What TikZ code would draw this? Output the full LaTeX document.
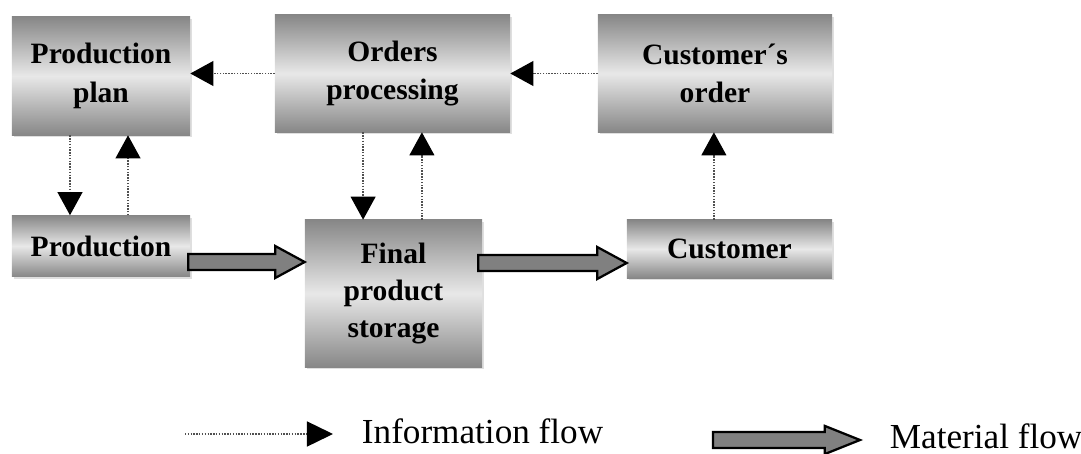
\documentclass[tikz,border=0pt]{standalone}
\usepackage{fontspec}
\setmainfont{Liberation Serif}
\usetikzlibrary{arrows.meta,calc,shadows}
\definecolor{boxdark}{RGB}{135,135,135}
\definecolor{boxlight}{RGB}{232,232,232}
\definecolor{dotgray}{RGB}{80,80,80}
\definecolor{flowgray}{RGB}{128,128,128}
\tikzset{
  block/.style={rectangle, inner sep=0pt, align=center,
    top color=boxdark, bottom color=boxdark, middle color=boxlight,
    drop shadow={shadow xshift=1.5pt, shadow yshift=-1.5pt, opacity=0.25},
    font=\bfseries\fontsize{21}{27.5}\selectfont},
  info/.style={draw=dotgray, line width=1pt, dash pattern=on 1pt off 1pt,
    -{Triangle[length=0.575cm,width=0.62cm,fill=black,color=black]}},
  matflow/.style={draw=black, line width=1.6pt, fill=flowgray, line join=miter},
  legendtext/.style={anchor=base west, font=\fontsize{25}{30}\selectfont}
}
% thick outlined arrow between two points (same height)
\newcommand\matarrow[4][21pt]{%
  \draw[matflow] let \p1=(#2), \p2=(#3) in
    (\x1,{\y1+5.7pt}) -- ({\x2-#1},{\y1+5.7pt}) -- ({\x2-#1},{\y1+#4})
    -- (\x2,\y1) -- ({\x2-#1},{\y1-#4}) -- ({\x2-#1},{\y1-5.7pt})
    -- (\x1,{\y1-5.7pt}) -- cycle;}
\begin{document}
\begin{tikzpicture}[x=0.025cm, y=-0.025cm]
  \useasboundingbox (0,0) rectangle (1081,454);
  % boxes
  \node[block, minimum width=4.45cm, minimum height=2.95cm] (plan) at (101,76) {Production\\plan};
  \node[block, minimum width=5.875cm, minimum height=2.925cm] (orders) at (392.5,73.5) {Orders\\processing};
  \node[block, minimum width=5.85cm, minimum height=2.925cm] (custorder) at (715,73.5) {Customer´s\\order};
  \node[block, minimum width=4.45cm, minimum height=1.525cm] (prod) at (101,246) {Production};
  \node[block, minimum width=4.425cm, minimum height=3.675cm, font=\bfseries\fontsize{21}{26.5}\selectfont] (storage) at (393.5,293.5) {Final\\product\\storage};
  \node[block, minimum width=5.125cm, minimum height=1.45cm] (customer) at (729.5,249) {Customer};
  % information flow
  \draw[info] (orders.west) -- (orders.west -| plan.east);
  \draw[info] (custorder.west) -- (custorder.west -| orders.east);
  \draw[info] ([xshift=-0.775cm]plan.south) -- ([xshift=-0.775cm]prod.north);
  \draw[info] ([xshift=0.675cm]prod.north) -- ([xshift=0.675cm]plan.south);
  \draw[info] ([xshift=-0.76cm]storage.north |- orders.south) -- ([xshift=-0.76cm]storage.north);
  \draw[info] ([xshift=0.71cm]storage.north) -- ([xshift=0.71cm]storage.north |- orders.south);
  \draw[info] ([xshift=-0.39cm]customer.north) -- ([xshift=-0.39cm]customer.north |- custorder.south);
  % material flow
  \matarrow{$(prod.east)+(-2,16)$}{$(storage.west |- prod.east)+(0,16)$}{11.4pt}
  \matarrow{$(storage.east |- customer.west)+(-4,14)$}{$(customer.west)+(0,14)$}{11.4pt}
  % legend
  \coordinate (infoA) at (185,434);
  \coordinate (infoB) at (333,434);
  \draw[info, -{Triangle[length=0.65cm,width=0.625cm,fill=black,color=black]}] (infoA) -- (infoB);
  \node[legendtext] (infolab) at (357,443) {Information flow};
  \coordinate (matA) at (713,440);
  \coordinate (matB) at (860,440);
  \matarrow[25pt]{matA}{matB}{10pt}
  \node[legendtext] (matlab) at (885,448) {Material flow};
\end{tikzpicture}
\end{document}
